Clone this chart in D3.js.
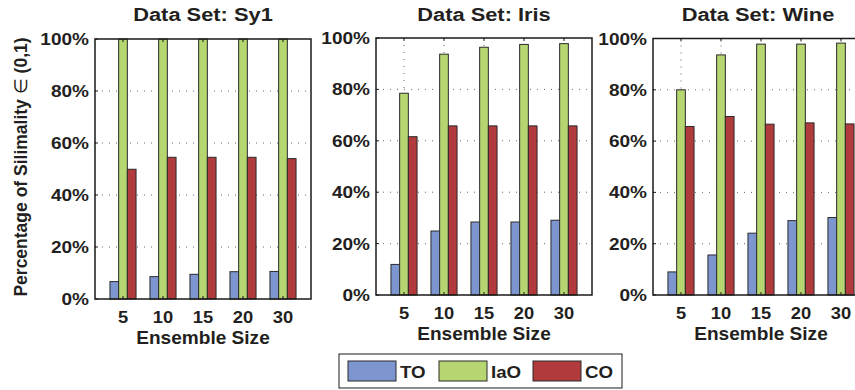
<!DOCTYPE html>
<html>
<head>
<meta charset="utf-8">
<script src="https://cdn.jsdelivr.net/npm/d3@7/dist/d3.min.js"></script>
<style>
  html, body { margin: 0; padding: 0; background: #fff; }
  svg { display: block; }
  text { font-family: "Liberation Sans", Arial, Helvetica, sans-serif; font-weight: bold; fill: #231f20; }
</style>
</head>
<body>
<svg id="chart" width="855" height="390"></svg>
<script>
// Ensemble sizes on the x axis and the three similarity measures
const ensembleSizes = ["5", "10", "15", "20", "30"];
const seriesNames = ["TO", "IaO", "CO"];
const seriesColors = ["#7d96cf", "#b6d671", "#b13a3d"];
const yTicks = [0, 20, 40, 60, 80, 100];

// Percentages per data set (TO, IaO, CO)
const sy1TO  = [6.7, 8.6, 9.5, 10.5, 10.6];
const sy1IaO = [100, 100, 100, 100, 100];
const sy1CO  = [49.9, 54.5, 54.5, 54.5, 54.0];

const irisTO  = [11.9, 24.9, 28.4, 28.4, 29.1];
const irisIaO = [78.5, 93.7, 96.4, 97.5, 97.8];
const irisCO  = [61.6, 65.8, 65.8, 65.8, 65.8];

const wineTO  = [9.0, 15.6, 24.1, 29.0, 30.2];
const wineIaO = [80.0, 93.6, 97.8, 97.8, 98.2];
const wineCO  = [65.7, 69.6, 66.6, 67.1, 66.7];

const dataSetNames = ["Sy1", "Iris", "Wine"];
const dataSets = [
  [sy1TO, sy1IaO, sy1CO],
  [irisTO, irisIaO, irisCO],
  [wineTO, wineIaO, wineCO]
];

// Panel frames
const panels = [
  { left: 95,  right: 311, top: 39, bottom: 299 },
  { left: 376, right: 592, top: 38, bottom: 295 },
  { left: 653, right: 869, top: 38.5, bottom: 295 }
];

const svg = d3.select("#chart");
const STRETCH = 1.12;

function label(g, x, y, str, size, anchor, sx) {
  return g.append("text")
    .attr("transform", `translate(${x},${y}) scale(${sx || STRETCH},1)`)
    .attr("text-anchor", anchor || "middle")
    .style("font-size", size + "px")
    .text(str);
}

panels.forEach((p, pi) => {
  const g = svg.append("g");
  const x = d3.scaleLinear().domain([0.3, 5.7]).range([p.left, p.right]);
  const y = d3.scaleLinear().domain([0, 100]).range([p.bottom, p.top]);
  const barW = x(0.2175) - x(0);

  // dotted grid
  g.append("g").selectAll("line.h").data(yTicks.slice(1, -1)).join("line")
    .attr("x1", p.left).attr("x2", p.right)
    .attr("y1", d => y(d)).attr("y2", d => y(d))
    .attr("stroke", "#666").attr("stroke-width", 1).attr("stroke-dasharray", "1,6");
  g.append("g").selectAll("line.v").data(ensembleSizes).join("line")
    .attr("x1", (d, i) => x(i + 1)).attr("x2", (d, i) => x(i + 1))
    .attr("y1", p.top).attr("y2", p.bottom)
    .attr("stroke", "#666").attr("stroke-width", 1).attr("stroke-dasharray", "1,6");

  // grouped bars
  dataSets[pi].forEach((vals, si) => {
    g.append("g").selectAll("rect").data(vals).join("rect")
      .attr("x", (d, i) => x(i + 1) + (si - 1.5) * barW)
      .attr("width", barW)
      .attr("y", d => y(d))
      .attr("height", d => y(0) - y(d))
      .attr("fill", seriesColors[si])
      .attr("stroke", "#2b2b2b")
      .attr("stroke-width", 1);
  });

  // axis box and inward ticks
  g.append("rect")
    .attr("x", p.left).attr("y", p.top)
    .attr("width", p.right - p.left).attr("height", p.bottom - p.top)
    .attr("fill", "none").attr("stroke", "#1a1a1a").attr("stroke-width", 1.5);
  const ticks = g.append("g").attr("stroke", "#1a1a1a").attr("stroke-width", 1);
  ensembleSizes.forEach((s, i) => {
    ticks.append("line").attr("x1", x(i + 1)).attr("x2", x(i + 1)).attr("y1", p.bottom).attr("y2", p.bottom - 3);
    ticks.append("line").attr("x1", x(i + 1)).attr("x2", x(i + 1)).attr("y1", p.top).attr("y2", p.top + 3);
  });
  yTicks.forEach(t => {
    ticks.append("line").attr("x1", p.left).attr("x2", p.left + 3).attr("y1", y(t)).attr("y2", y(t));
  });

  // tick labels
  yTicks.forEach(t => {
    label(g, p.left - 6, y(t) + 6, t + "%", 17, "end");
  });
  ensembleSizes.forEach((s, i) => {
    label(g, x(i + 1), p.bottom + 24, s, 17, "middle", 1.08);
  });

  // titles
  label(g, (p.left + p.right) / 2, p.bottom + 44.5, "Ensemble Size", 18, "middle", 1.06);
  const titleX = pi === 2 ? 758 : (p.left + p.right) / 2;
  label(g, titleX, 21, "Data Set: " + dataSetNames[pi], 19, "middle", 1.15);
});

// y axis label
const yl = svg.append("text")
  .attr("transform", "translate(27,167) rotate(-90)")
  .attr("text-anchor", "middle")
  .style("font-size", "17.5px");
yl.append("tspan").text("Percentage of Silimality ");
yl.append("tspan").style("font-weight", "normal").text("\u2208");
yl.append("tspan").text(" (0,1)");

// legend
const lg = svg.append("g");
lg.append("rect").attr("x", 339).attr("y", 354).attr("width", 283).attr("height", 34)
  .attr("fill", "#fff").attr("stroke", "#1a1a1a").attr("stroke-width", 1);
const legendX = [348, 439, 533];
seriesNames.forEach((n, i) => {
  lg.append("rect").attr("x", legendX[i]).attr("y", 361).attr("width", 48).attr("height", 20)
    .attr("fill", seriesColors[i]).attr("stroke", "#2b2b2b").attr("stroke-width", 1);
  label(lg, legendX[i] + 52, 378, n, 17, "start", 1.1);
});
</script>
</body>
</html>
